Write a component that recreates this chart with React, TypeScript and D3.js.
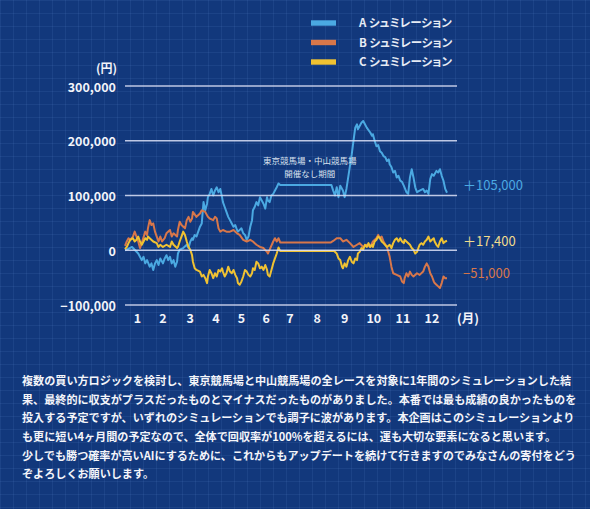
import React from 'react';
import * as d3 from 'd3';

const W = 590;
const H = 509;

// [day of year, balance in thousand yen]
const seriesA: [number, number][] = [
  [0, 0], [2, 1], [8, 6], [11, 1], [15, -6], [19, -18], [21, -12], [23, -24], [25, -18], [28, -30],
  [30, -24], [32, -36], [34, -24], [36, -18], [38, -27], [40, -15], [43, -24], [45, -15], [47, -9], [49, -18],
  [51, -12], [53, -24], [55, -18], [57, -30], [59, -21], [60, -6], [62, 1], [66, 4], [70, 10], [72, 4],
  [74, 16], [76, 22], [77, 19], [79, 28], [81, 25], [83, 34], [85, 43], [87, 49], [89, 88], [91, 73],
  [93, 85], [94, 97], [96, 103], [98, 112], [100, 100], [102, 109], [104, 115], [106, 106], [108, 112], [110, 97],
  [111, 88], [113, 79], [115, 70], [117, 61], [119, 55], [121, 49], [123, 43], [125, 46], [127, 37], [128, 34],
  [132, 40], [134, 31], [136, 28], [138, 19], [140, 25], [142, 43], [144, 55], [145, 73], [147, 79], [149, 88],
  [151, 82], [153, 97], [155, 91], [157, 85], [159, 76], [161, 97], [162, 91], [164, 88], [166, 100], [168, 103],
  [170, 109], [172, 115], [174, 122], [176, 119], [234, 119], [236, 109], [238, 100], [240, 115], [242, 97], [244, 118],
  [247, 109], [249, 97], [251, 112], [253, 133], [255, 154], [257, 175], [259, 200], [261, 224], [263, 230], [264, 221],
  [266, 227], [268, 233], [270, 236], [272, 230], [274, 224], [278, 215], [280, 209], [281, 212], [283, 200], [285, 190],
  [287, 192], [289, 181], [291, 178], [293, 172], [295, 170], [297, 163], [299, 166], [300, 157], [302, 152], [304, 142],
  [306, 145], [308, 133], [310, 136], [312, 127], [314, 125], [316, 118], [319, 106], [321, 103], [323, 133], [325, 148],
  [327, 133], [329, 115], [331, 106], [334, 109], [338, 112], [340, 106], [342, 109], [344, 103], [346, 130], [348, 139],
  [350, 136], [353, 145], [355, 142], [357, 148], [359, 136], [361, 127], [363, 112], [365, 105],
];

const seriesB: [number, number][] = [
  [0, 8], [2, 16], [4, 22], [6, 19], [9, 25], [11, 34], [15, 16], [17, 4], [19, 13], [23, 34],
  [25, 28], [26, 40], [28, 55], [30, 46], [32, 49], [34, 34], [36, 25], [38, 16], [40, 25], [42, 16],
  [45, 22], [47, 31], [51, 37], [53, 25], [55, 31], [59, 25], [60, 37], [62, 52], [64, 46], [68, 40],
  [70, 55], [72, 61], [74, 52], [76, 58], [77, 70], [81, 61], [85, 67], [87, 73], [91, 70], [94, 61],
  [96, 58], [100, 55], [102, 61], [104, 58], [106, 40], [108, 34], [111, 37], [115, 34], [119, 34], [123, 37],
  [127, 31], [130, 28], [134, 19], [138, 16], [142, 19], [145, 16], [149, 10], [153, 6], [157, 4], [161, -3],
  [162, -6], [164, 1], [168, 16], [170, 22], [172, 16], [174, 22], [176, 14], [233, 14], [236, 17], [240, 22],
  [244, 22], [247, 16], [251, 19], [255, 13], [259, 6], [263, 10], [266, 13], [270, 6], [274, 10], [278, 6],
  [281, 16], [285, 22], [287, 28], [289, 22], [291, 25], [293, 16], [297, 6], [300, -12], [302, -30], [304, -42],
  [308, -45], [312, -48], [314, -57], [316, -60], [317, -51], [319, -42], [321, -48], [323, -39], [325, -45], [327, -48],
  [331, -42], [334, -45], [338, -39], [340, -30], [342, -24], [344, -30], [346, -42], [348, -48], [350, -57], [351, -60],
  [353, -63], [355, -66], [357, -69], [359, -60], [361, -48], [363, -51], [365, -51],
];

const seriesC: [number, number][] = [
  [0, 2], [2, 6], [4, 13], [6, 19], [9, 22], [11, 16], [13, 19], [15, 25], [17, 16], [19, 10],
  [21, 16], [23, 22], [25, 19], [26, 25], [28, 22], [32, 16], [36, 13], [38, 6], [40, 10], [43, 6],
  [47, 10], [51, 6], [53, 16], [55, 10], [59, 4], [60, 6], [62, 16], [64, 25], [66, 34], [68, 28],
  [70, 16], [72, 6], [74, 1], [76, -9], [77, -21], [79, -33], [81, -36], [85, -39], [87, -48], [89, -45],
  [91, -51], [93, -60], [94, -48], [96, -36], [98, -42], [100, -51], [102, -42], [104, -48], [106, -36], [108, -39],
  [110, -33], [111, -39], [113, -48], [115, -42], [117, -30], [119, -39], [121, -42], [123, -36], [125, -45], [127, -51],
  [128, -60], [130, -63], [132, -57], [134, -48], [136, -36], [138, -39], [140, -45], [142, -48], [144, -42], [145, -33],
  [147, -36], [149, -21], [151, -24], [153, -33], [155, -30], [157, -36], [159, -27], [161, -36], [162, -45], [164, -48],
  [166, -36], [168, -24], [170, -15], [172, -6], [174, 5], [176, -1.5], [237, -1.5], [240, -6], [242, -15], [244, -18],
  [246, -30], [247, -33], [249, -24], [251, -30], [253, -18], [255, -12], [257, -21], [259, -24], [261, -15], [263, -18],
  [264, -6], [266, -3], [268, 4], [270, 1], [272, 10], [274, 6], [276, 13], [278, 6], [280, 10], [281, 6],
  [283, 16], [285, 19], [287, 25], [289, 22], [291, 16], [293, 13], [297, 6], [300, 10], [302, 4], [304, 13],
  [306, 19], [308, 22], [310, 16], [312, 22], [314, 16], [316, 13], [317, 19], [319, 16], [323, 10], [325, 4],
  [327, 1], [329, -6], [331, -3], [333, 6], [334, 10], [336, 13], [338, 10], [340, 16], [342, 19], [344, 25],
  [346, 16], [348, 19], [350, 22], [351, 16], [353, 10], [355, 6], [357, 16], [359, 22], [361, 13], [363, 16],
  [365, 17.4],
];

const seriesNames = ['A シュミレーション', 'B シュミレーション', 'C シュミレーション'];
const finalLabels = ['＋105,000', '−51,000', '＋17,400'];

const yTicks = [-100000, 0, 100000, 200000, 300000];
const monthLabels = ['1', '2', '3', '4', '5', '6', '7', '8', '9', '10', '11', '12'];
const monthTickDays = [14, 43, 74, 103, 132, 160, 187, 218, 249, 282, 315, 348];

// Tokyo / Nakayama off-season (no races held)
const offSeason = [176, 234];
const offSeasonNote = ['東京競馬場・中山競馬場', '開催なし期間'];

const paragraph = [
  '複数の買い方ロジックを検討し、東京競馬場と中山競馬場の全レースを対象に1年間のシミュレーションした結',
  '果、最終的に収支がプラスだったものとマイナスだったものがありました。本番では最も成績の良かったものを',
  '投入する予定ですが、いずれのシミュレーションでも調子に波があります。本企画はこのシミュレーションより',
  'も更に短い4ヶ月間の予定なので、全体で回収率が100%を超えるには、運も大切な要素になると思います。',
  '少しでも勝つ確率が高いAIにするために、これからもアップデートを続けて行きますのでみなさんの寄付をどう',
  'ぞよろしくお願いします。',
];

const FONT = "'Noto Sans CJK JP', 'Noto Sans', sans-serif";

const series = [
  { data: seriesA, color: '#4ba9e2', labelColor: '#4ba9e2', labelDy: -7 },
  { data: seriesB, color: '#d8774a', labelColor: '#d8774a', labelDy: -5 },
  { data: seriesC, color: '#f0c232', labelColor: '#f1dc8e', labelDy: 1 },
];

export default function App() {
  const x = d3.scaleLinear().domain([0, 365]).range([125, 447]);
  const y = d3.scaleLinear().domain([-100000, 300000]).range([305, 86]);
  const line = d3
    .line<[number, number]>()
    .x(d => x(d[0]))
    .y(d => y(d[1] * 1000));

  const gridRight = x.range()[1] + 10;
  const noteX = x((offSeason[0] + offSeason[1]) / 2) + 4;
  const flatY = y(seriesA.find(d => d[0] === offSeason[0])![1] * 1000);

  return (
    <div style={{ position: 'fixed', left: 0, top: 0, width: W, height: H, background: '#12387c' }}>
      <svg width={W} height={H} style={{ display: 'block' }} fontFamily={FONT}>
        <defs>
          <pattern id="blueprint" width={13} height={13} patternUnits="userSpaceOnUse">
            <path d="M13 0 L0 0 0 13" fill="none" stroke="rgba(110,150,225,0.22)" strokeWidth={1} />
          </pattern>
        </defs>
        <rect width={W} height={H} fill="#12387c" />
        <rect width={W} height={H} fill="url(#blueprint)" />

        {/* legend */}
        {seriesNames.map((name, i) => (
          <g key={name} transform={`translate(311, ${23 + i * 19.5})`}>
            <rect x={0} y={-2.7} width={25} height={5.4} fill={series[i].color} />
            <text
              x={48}
              y={0}
              dy="0.36em"
              fill="#e6ebf4"
              fontSize={11.5}
              fontWeight={700}
              style={{ fontFeatureSettings: '"palt"' }}
            >
              {name}
            </text>
          </g>
        ))}

        {/* y axis */}
        <text x={117} y={69} dy="0.36em" textAnchor="end" fill="#f2f4fa" fontSize={12} fontWeight={700}>
          (円)
        </text>
        {yTicks.map(t => (
          <text key={t} x={116} y={y(t) + 1} dy="0.36em" textAnchor="end" fill="#f2f4fa" fontSize={12.5} fontWeight={700}>
            {d3.format(',')(t)}
          </text>
        ))}

        {/* x axis */}
        {monthTickDays.map((d, i) => (
          <text key={d} x={x(d)} y={318} dy="0.36em" textAnchor="middle" fill="#f2f4fa" fontSize={12.5} fontWeight={700}>
            {monthLabels[i]}
          </text>
        ))}
        <text x={468} y={318} dy="0.36em" textAnchor="middle" fill="#f2f4fa" fontSize={12.5} fontWeight={700}>
          (月)
        </text>

        {/* series */}
        {series.map((s, i) => (
          <path key={i} d={line(s.data) || ''} fill="none" stroke={s.color} strokeWidth={2} strokeLinejoin="round" />
        ))}

        {/* horizontal grid lines */}
        {yTicks.map(t => (
          <line key={t} x1={x.range()[0]} x2={gridRight} y1={y(t)} y2={y(t)} stroke="rgba(214,220,244,0.88)" strokeWidth={1.7} />
        ))}

        {/* off-season note */}
        {offSeasonNote.map((t, i) => (
          <text key={t} x={noteX} y={flatY - 24 + i * 13} dy="0.36em" textAnchor="middle" fill="#d8e0ee" fontSize={8.5}>
            {t}
          </text>
        ))}

        {/* final balance labels */}
        {series.map((s, i) => {
          const last = s.data[s.data.length - 1];
          return (
            <text key={i} x={gridRight + 6} y={y(last[1] * 1000) + s.labelDy} dy="0.36em" fill={s.labelColor} fontSize={13}>
              {finalLabels[i]}
            </text>
          );
        })}

        {/* description */}
        {paragraph.map((t, i) => (
          <text key={i} x={22} y={381 + i * 18.7} dy="0.36em" fill="#f4f5fa" fontSize={11.1} fontWeight={700}>
            {t}
          </text>
        ))}
      </svg>
    </div>
  );
}
